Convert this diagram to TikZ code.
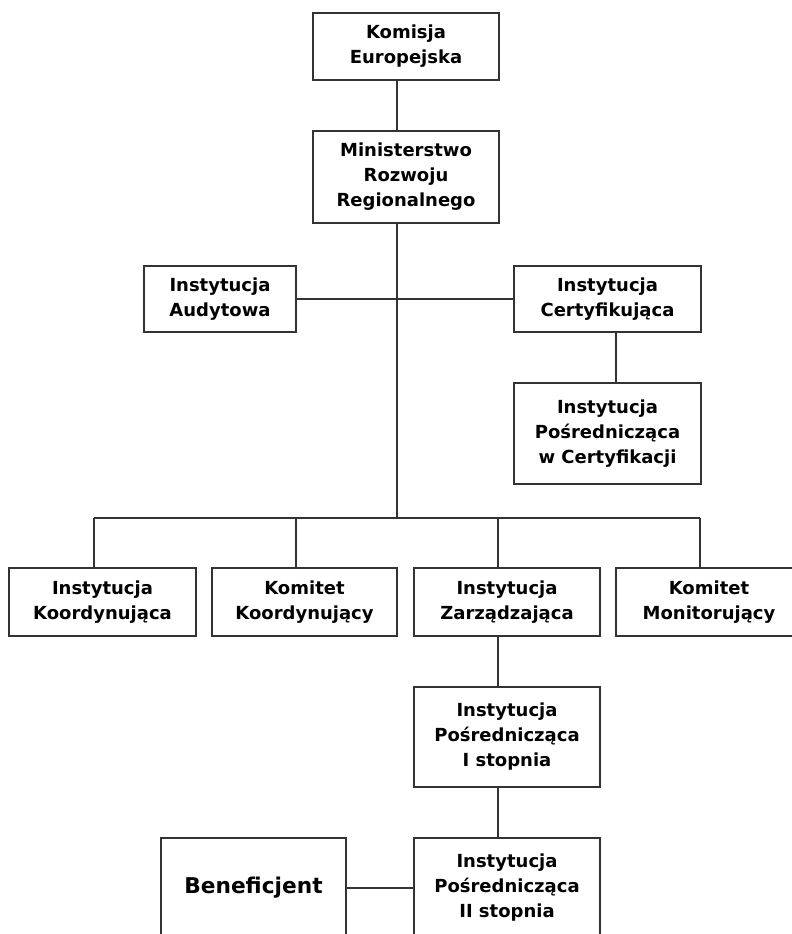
\documentclass[tikz,border=0pt]{standalone}
\usepackage{fontspec}
\setmainfont{DejaVu Sans}

\tikzset{
  unitbox/.style={draw=black!80, line width=1.2pt, fill=white, align=center,
    inner sep=0pt, minimum width=186pt, minimum height=67pt,
    font=\fontsize{18}{25}\selectfont\bfseries},
  link/.style={draw=black!80, line width=1.2pt}
}

\begin{document}
\begin{tikzpicture}[x=1pt, y=-1pt]
  % Page frame (pixel grid of the reference)
  \useasboundingbox (0,0) rectangle (792,934);

  % Top of the chart
  \node[unitbox] (komisja) at (406,46.5) {Komisja\\Europejska};
  \node[unitbox, minimum height=92pt] (ministerstwo) at (406,177) {Ministerstwo\\Rozwoju\\Regionalnego};

  % Audit and certification
  \node[unitbox, minimum width=152pt, minimum height=66pt] (audyt) at (220,299) {Instytucja\\Audytowa};
  \node[unitbox, minimum width=187pt, minimum height=66pt] (certyf) at (607.5,299) {Instytucja\\Certyfikująca};
  \node[unitbox, minimum width=187pt, minimum height=101pt] (posrcert) at (607.5,433.5) {Instytucja\\Pośrednicząca\\w Certyfikacji};

  % Row of four units
  \node[unitbox, minimum width=187pt, minimum height=68pt] (koord) at (102.5,602) {Instytucja\\Koordynująca};
  \node[unitbox, minimum width=185pt, minimum height=68pt] (komkoord) at (304.5,602) {Komitet\\Koordynujący};
  \node[unitbox, minimum height=68pt] (zarz) at (507,602) {Instytucja\\Zarządzająca};
  \node[unitbox, minimum height=68pt] (monit) at (709,602) {Komitet\\Monitorujący};

  % Intermediate bodies and beneficiary
  \node[unitbox, minimum height=100pt] (posr1) at (507,737) {Instytucja\\Pośrednicząca\\I stopnia};
  \node[unitbox, minimum height=100pt] (posr2) at (507,888) {Instytucja\\Pośrednicząca\\II stopnia};
  \node[unitbox, minimum width=185pt, minimum height=100pt, font=\fontsize{21.7}{26}\selectfont\bfseries] (benef) at (253.5,888) {Beneficjent};

  % Helper points for the trunk and the bus
  \coordinate (trunk) at (397,518);
  \coordinate (d1) at (94,518);
  \coordinate (d2) at (296,518);
  \coordinate (d3) at (498,518);
  \coordinate (d4) at (700,518);
  \coordinate (certline) at (616,0);

  % Trunk line
  \draw[link] (komisja.south -| trunk) -- (ministerstwo.north -| trunk);
  \draw[link] (ministerstwo.south -| trunk) -- (trunk);
  \draw[link] (audyt.east) -- (certyf.west);
  \draw[link] (certyf.south -| certline) -- (posrcert.north -| certline);

  % Bus and drops
  \draw[link] (d1) -- (d4);
  \foreach \d/\n in {d1/koord, d2/komkoord, d3/zarz, d4/monit}
    \draw[link] (\d) -- (\d |- \n.north);

  % Chain below the managing authority
  \draw[link] (zarz.south -| d3) -- (posr1.north -| d3);
  \draw[link] (posr1.south -| d3) -- (posr2.north -| d3);
  \draw[link] (benef.east) -- (posr2.west);
\end{tikzpicture}
\end{document}
